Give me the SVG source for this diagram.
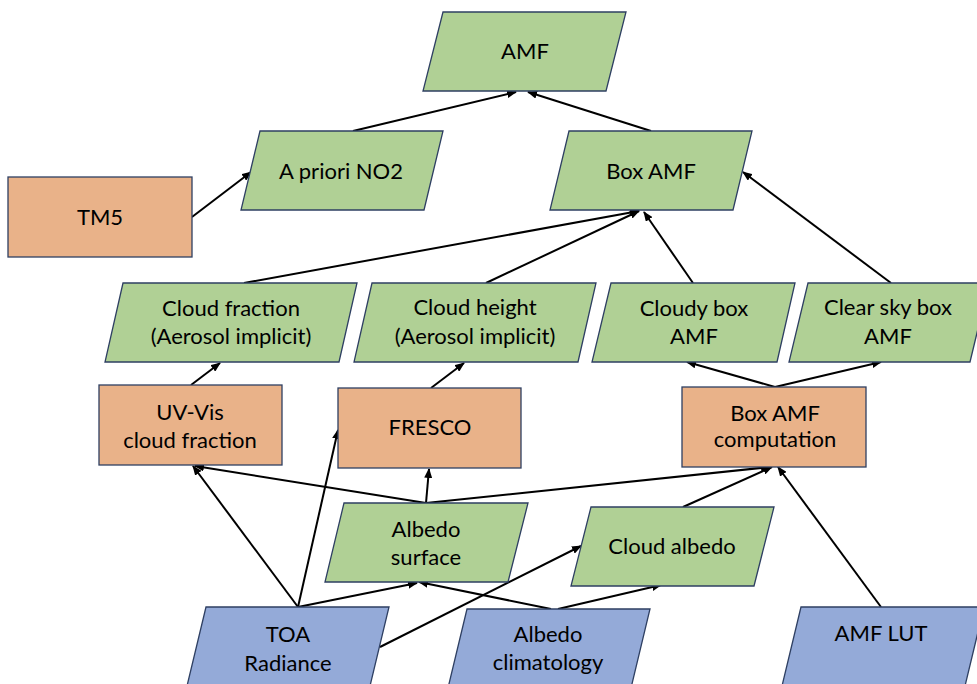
<svg xmlns="http://www.w3.org/2000/svg" width="977" height="684" viewBox="0 0 977 684">
<style>
.g{fill:#B0D095;stroke:#2E3F62;stroke-width:1.3}
.o{fill:#E9B289;stroke:#2E3F62;stroke-width:1.3}
.b{fill:#94AAD8;stroke:#2E3F62;stroke-width:1.3}
text{font-family:Lato,"Liberation Sans",sans-serif;font-size:22px;fill:#000;text-anchor:middle}
.c line{stroke:#000;stroke-width:2;marker-end:url(#ah)}
</style>
<defs>
<marker id="ah" markerUnits="userSpaceOnUse" markerWidth="10" markerHeight="8" refX="9" refY="4" orient="auto">
<path d="M0,0 L10,4 L0,8 z" fill="#000"/>
</marker>
</defs>
<rect width="977" height="684" fill="#fff"/>
<g class="c" id="connectors">
<line x1="353" y1="131" x2="516" y2="92"/>
<line x1="651" y1="131" x2="528" y2="92"/>
<line x1="192" y1="217" x2="251" y2="172"/>
<line x1="244" y1="283" x2="639" y2="211"/>
<line x1="486" y1="283" x2="639" y2="211"/>
<line x1="693" y1="283" x2="644" y2="212"/>
<line x1="891" y1="283" x2="743" y2="172"/>
<line x1="191" y1="385" x2="220" y2="363"/>
<line x1="431" y1="388" x2="464" y2="363"/>
<line x1="775" y1="387" x2="687" y2="362"/>
<line x1="775" y1="387" x2="881" y2="362"/>
<line x1="298" y1="607" x2="193" y2="466"/>
<line x1="298" y1="607" x2="338" y2="430"/>
<line x1="298" y1="607" x2="417" y2="583"/>
<line x1="380" y1="647" x2="581" y2="546"/>
<line x1="551" y1="609" x2="419" y2="582"/>
<line x1="558" y1="609" x2="661" y2="585"/>
<line x1="426" y1="503" x2="195" y2="466"/>
<line x1="426" y1="503" x2="429" y2="469"/>
<line x1="426" y1="503" x2="770" y2="467"/>
<line x1="683" y1="507" x2="772" y2="467"/>
<line x1="881" y1="607" x2="778" y2="467"/>
</g>
<g id="amf"><polygon class="g" points="443,12 626,12 606,91 423,91"/><text x="525" y="59">AMF</text></g>
<g id="apriori"><polygon class="g" points="260,131 443,131 424,210 241,210"/><text x="341" y="179">A priori NO2</text></g>
<g id="boxamf"><polygon class="g" points="569,131 752,131 733,210 550,210"/><text x="651" y="179">Box AMF</text></g>
<g id="tm5"><rect class="o" x="8" y="177" width="184" height="80"/><text x="100" y="225">TM5</text></g>
<g id="cloudfraction"><polygon class="g" points="123,283 357,283 339,362 105,362"/><text x="231" y="316">Cloud fraction</text><text x="231" y="344">(Aerosol implicit)</text></g>
<g id="cloudheight"><polygon class="g" points="372,283 596,283 578,362 354,362"/><text x="475" y="315">Cloud height</text><text x="475" y="344">(Aerosol implicit)</text></g>
<g id="cloudybox"><polygon class="g" points="611,283 795,283 777,362 592,362"/><text x="694" y="316">Cloudy box</text><text x="694" y="344">AMF</text></g>
<g id="clearsky"><polygon class="g" points="808,283 989,283 970,362 789,362"/><text x="888" y="315">Clear sky box</text><text x="888" y="344">AMF</text></g>
<g id="uvvis"><rect class="o" x="99" y="385" width="183" height="80"/><text x="190" y="420">UV-Vis</text><text x="190" y="448">cloud fraction</text></g>
<g id="fresco"><rect class="o" x="338" y="388" width="183" height="80"/><text x="430" y="435">FRESCO</text></g>
<g id="boxamfcomp"><rect class="o" x="682" y="387" width="184" height="80"/><text x="775" y="421">Box AMF</text><text x="775" y="447">computation</text></g>
<g id="albedosurface"><polygon class="g" points="344,503 528,503 508,582 325,582"/><text x="426" y="537">Albedo</text><text x="426" y="565">surface</text></g>
<g id="cloudalbedo"><polygon class="g" points="591,507 774,507 754,586 571,586"/><text x="672" y="554">Cloud albedo</text></g>
<g id="toa"><polygon class="b" points="206,607 389,607 370,686 187,686"/><text x="288" y="642">TOA</text><text x="288" y="671">Radiance</text></g>
<g id="albedoclim"><polygon class="b" points="467,609 650,609 631,688 448,688"/><text x="548" y="642">Albedo</text><text x="548" y="670">climatology</text></g>
<g id="amflut"><polygon class="b" points="801,607 984,607 965,686 782,686"/><text x="881" y="641">AMF LUT</text></g>
</svg>
